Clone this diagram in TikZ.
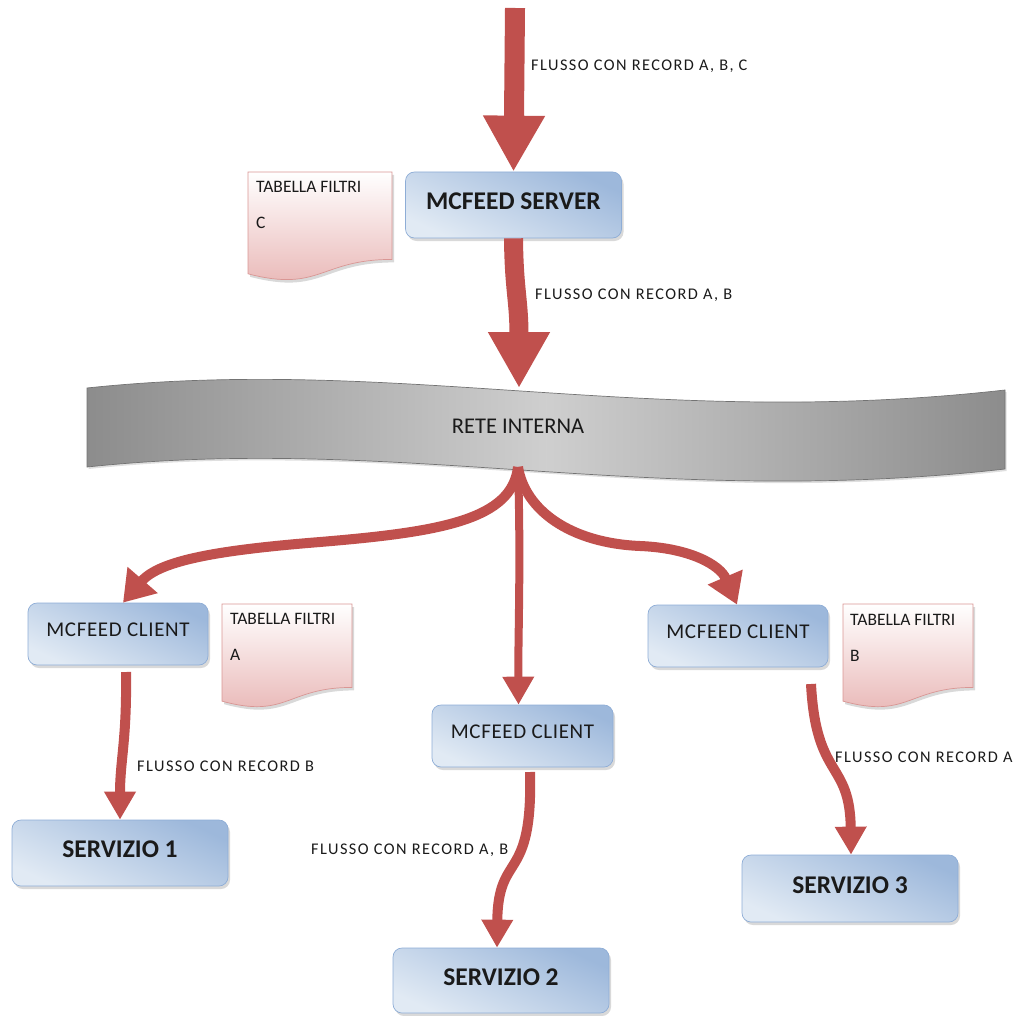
\documentclass[tikz,border=0pt]{standalone}
\usepackage{fontspec}
\setmainfont{Carlito}
\newfontfamily\lblfont{Carlito}[LetterSpace=9]
\newfontfamily\clientfont{Carlito}[LetterSpace=3]
\usetikzlibrary{arrows.meta,shadows,calc}
\pgfdeclarelayer{back}
\pgfsetlayers{back,main}

\definecolor{flow}{HTML}{C0504D}
\definecolor{boxtop}{HTML}{9DB8DB}
\definecolor{boxbot}{HTML}{E1EAF4}
\definecolor{boxline}{HTML}{8EADD6}
\definecolor{notebot}{HTML}{E8B4B3}
\definecolor{noteline}{HTML}{D99694}
\definecolor{inktext}{HTML}{1A1A1A}

% document-style card: straight top, wavy bottom edge
\newcommand{\notecard}[4]{%
  \path[notecard] (#1,#2) -- ({#1+#3},#2) -- ({#1+#3},{#2+0.802*#4})
    .. controls ({#1+0.5*#3},{#2+0.802*#4}) and ({#1+0.5*#3},{#2+1.107*#4})
    .. (#1,{#2+0.934*#4}) -- cycle;}

\tikzset{
  proc/.style={draw=boxline, line width=0.7pt, rounded corners=9pt,
    top color=boxtop, bottom color=boxbot, shading angle=-25,
    drop shadow={shadow xshift=2pt, shadow yshift=-3pt, opacity=0.3},
    inner sep=0pt, text=inktext},
  bigproc/.style={proc, minimum width=216pt, minimum height=66pt,
    font=\fontsize{25.5}{29}\selectfont\bfseries, text depth=7pt},
  clientproc/.style={proc, minimum width=180pt, minimum height=62pt,
    font=\clientfont\fontsize{21}{25}\selectfont, text depth=8pt},
  notecard/.style={draw=noteline, line width=0.7pt, top color=white, bottom color=notebot,
    drop shadow={shadow xshift=2pt, shadow yshift=-3pt, opacity=0.3}},
  notetext/.style={anchor=north west, inner sep=0pt, align=left, text=inktext,
    font=\fontsize{17.5}{20}\selectfont},
  flowlabel/.style={anchor=base west, inner sep=0pt, text=inktext,
    font=\lblfont\fontsize{16.3}{19}\selectfont},
  flowline/.style={draw=flow, line cap=butt},
}

\begin{document}
\begin{tikzpicture}[x=1pt,y=-1pt]
\useasboundingbox (0,0) rectangle (1015,1016);

% internal network band
\path[draw=black!55, line width=0.7pt, left color=black!45, right color=black!45, middle color=black!19,
      drop shadow={shadow xshift=1.5pt, shadow yshift=-2pt, opacity=0.25}]
  (87,388) .. controls (400,355) and (650,430) .. (1005,390)
  -- (1005,469) .. controls (650,509) and (400,434) .. (87,467) -- cycle;
\node[text=inktext, font=\fontsize{22.5}{26}\selectfont] (net) at (518,426) {RETE INTERNA};
\coordinate (nettop) at (519,388);
\coordinate (netbot) at (518,467);

% processes
\node[bigproc] (srv) at (513.5,205) {MCFEED SERVER};
\node[clientproc] (lc) at (118,634) {MCFEED CLIENT};
\node[clientproc, minimum width=181pt] (mc) at (522.5,736) {MCFEED CLIENT};
\node[clientproc] (rc) at (738,636) {MCFEED CLIENT};
\node[bigproc] (s1) at (120,853) {SERVIZIO 1};
\node[bigproc, minimum height=65pt] (s2) at (501,980.5) {SERVIZIO 2};
\node[bigproc, minimum height=67pt] (s3) at (850,888.5) {SERVIZIO 3};

% filter tables
\begin{pgfonlayer}{back}
  \notecard{248}{172}{144}{109}
  \notecard{222}{604}{130}{104}
  \notecard{843}{604}{130}{104}
\end{pgfonlayer}
\node[notetext] (fc) at (256,181) {TABELLA FILTRI\\[16pt]C};
\node[notetext] (fa) at (230,613) {TABELLA FILTRI\\[16pt]A};
\node[notetext] (fb) at (850,614) {TABELLA FILTRI\\[16pt]B};

% free ends of the flows
\coordinate (src) at (515,8);
\coordinate (lcout) at (126,672);
\coordinate (mcout) at (530,772);
\coordinate (rcout) at (811,684);

% incoming flow and server output
\draw[flowline, line width=20pt, -{Triangle[width=58pt,length=56pt]}] (src) -- (srv.north);
\draw[flowline, line width=19pt, -{Triangle[width=58pt,length=56pt]}]
  (srv.south) .. controls (514,290) and (519,300) .. (nettop);

% distribution to the clients
\draw[flowline, line width=10pt, -{Triangle[width=38pt,length=30pt]}]
  (netbot) .. controls (512,520) and (440,532) .. (320,542)
  .. controls (220,550) and (160,560) .. ([xshift=5pt]lc.north);
\draw[flowline, line width=8pt, -{Triangle[width=30pt,length=28pt]}]
  (netbot) .. controls (521,560) and (518,640) .. ([xshift=-4pt]mc.north);
\draw[flowline, line width=10pt, -{Triangle[width=36pt,length=30pt]}]
  (netbot) .. controls (525,510) and (570,543) .. (640,546)
  .. controls (690,548) and (720,565) .. ([xshift=-1pt]rc.north);

% client outputs to the services
\draw[flowline, line width=10pt, -{Triangle[width=30pt,length=28pt]}]
  (lcout) .. controls (127,740) and (120,760) .. (s1.north);
\draw[flowline, line width=10pt, -{Triangle[width=30pt,length=28pt]}]
  (mcout) .. controls (533,885) and (498,850) .. ([xshift=-4pt]s2.north);
\draw[flowline, line width=10pt, -{Triangle[width=30pt,length=28pt]}]
  (rcout) .. controls (816,780) and (850,760) .. ([xshift=1pt]s3.north);

% flow labels
\node[flowlabel] (l1) at (531,71) {FLUSSO CON RECORD A, B, C};
\node[flowlabel] (l2) at (535,299) {FLUSSO CON RECORD A, B};
\node[flowlabel] (l3) at (137,771) {FLUSSO CON RECORD B};
\node[flowlabel] (l4) at (311,854) {FLUSSO CON RECORD A, B};
\node[flowlabel] (l5) at (835,762) {FLUSSO CON RECORD A};
\end{tikzpicture}
\end{document}
